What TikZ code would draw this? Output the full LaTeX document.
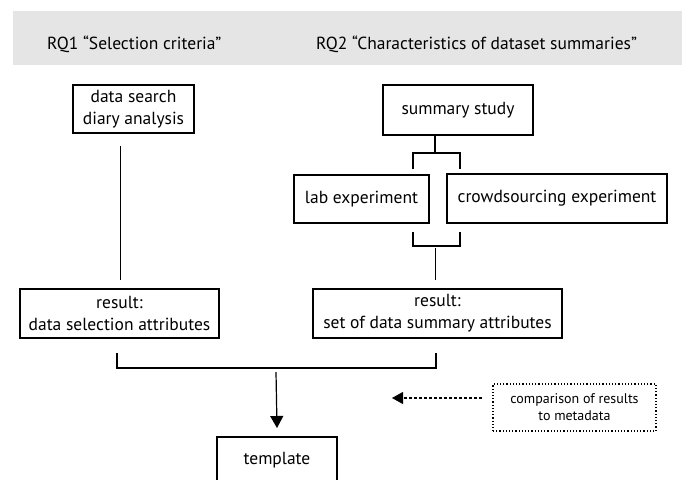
\documentclass[tikz,border=0pt]{standalone}
\usepackage{fontspec}
\setmainfont{PT Sans}
\usetikzlibrary{arrows.meta}
\begin{document}
\begin{tikzpicture}[x=1pt,y=-1pt,
  box/.style={draw, line width=1.3pt, inner sep=0pt, align=center, font=\fontsize{17.5}{22}\selectfont},
  notebox/.style={draw, dotted, line width=1.2pt, inner sep=0pt, align=center, font=\fontsize{14}{17}\selectfont},
  conn/.style={line width=1.2pt},
  thin conn/.style={line width=0.9pt},
  header/.style={anchor=west, inner sep=0pt, font=\fontsize{17.5}{21}\selectfont}]
\useasboundingbox (0,0) rectangle (682,479);
\clip (0,0) rectangle (682,479);
\fill[black!10] (13,11) rectangle (682,65);
\node[header] (rq1) at (47,44) {RQ1 “Selection criteria”};
\node[header] (rq2) at (316,44) {RQ2 “Characteristics of dataset summaries”};

\node[box, minimum width=121pt, minimum height=48pt] (diary) at (133.5,109) {data search\\diary analysis};
\node[box, minimum width=150pt, minimum height=50pt] (summary) at (458,110) {summary study};
\node[box, minimum width=135pt, minimum height=48pt] (lab) at (361.5,199) {lab experiment};
\node[box, minimum width=220pt, minimum height=49pt] (crowd) at (557,198.5) {crowdsourcing experiment};
\node[box, minimum width=199pt, minimum height=49pt] (res1) at (119.5,313.5) {result:\\data selection attributes};
\node[box, minimum width=249pt, minimum height=49pt] (res2) at (437.5,313.5) {result:\\set of data summary attributes};
\node[box, minimum width=120pt, minimum height=46pt] (template) at (277,460) {template};
\node[notebox, minimum width=163pt, minimum height=47pt] (note) at (574.5,407.5) {comparison of results\\to metadata};

% connectors
\coordinate (d1) at (120,146); \coordinate (d2) at (120,280);
\draw[thin conn] (d1) -- (d2);
\coordinate (s1) at (435,136); \coordinate (s2) at (435,153);
\draw[conn] (s1) -- (s2);
\draw[conn] (413,169) -- (413,153) -- (460,153) -- (460,169);
\draw[conn] (413,232) -- (413,246) -- (460,246) -- (460,232);
\coordinate (e1) at (435,248); \coordinate (e2) at (435,280);
\draw[thin conn] (e1) -- (e2);
\draw[conn] (117,353) -- (117,368) -- (436,368) -- (436,353);
\coordinate (a1) at (276,372);
\draw[conn, -{Triangle[length=12pt,width=13pt]}] (a1) -- (template.north |- 0,428);
\coordinate (n2) at (392,398);
\draw[line width=1.1pt, dash pattern=on 3pt off 2pt, -{Triangle[length=11pt,width=12pt]}] (482,398) -- (n2);
\end{tikzpicture}
\end{document}
